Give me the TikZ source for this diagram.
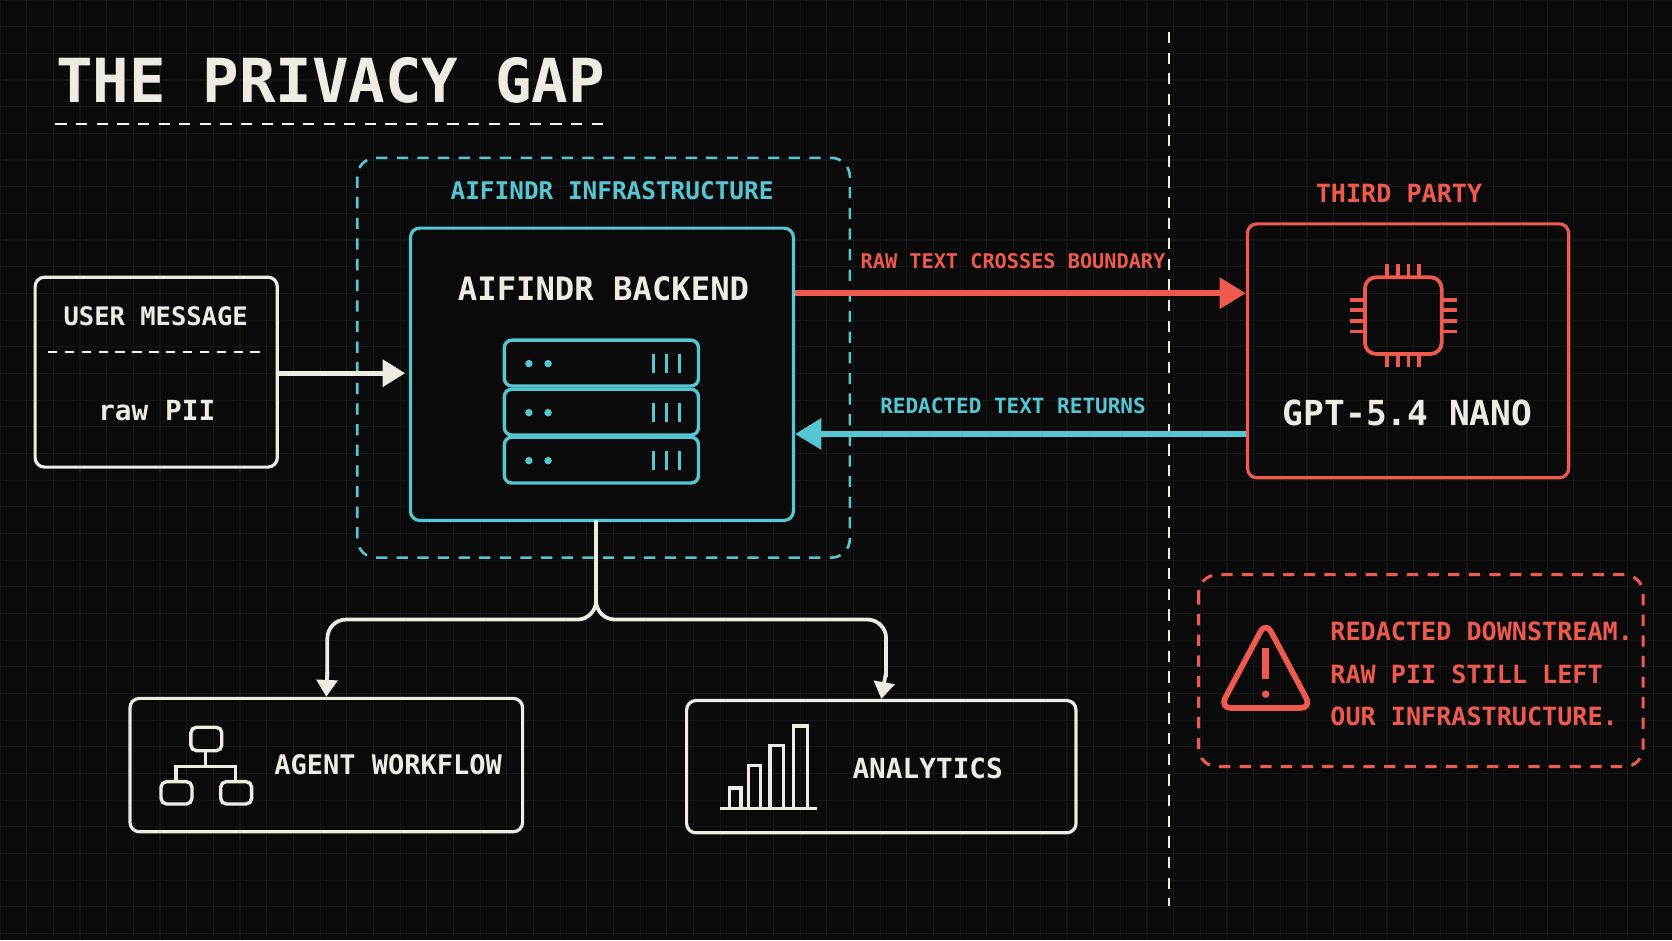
\documentclass[tikz,border=0pt]{standalone}
\usepackage{fontspec}
\setmainfont{DejaVu Sans Mono}
\usetikzlibrary{arrows.meta}
\definecolor{bg}{HTML}{0A0A0A}
\definecolor{gridc}{HTML}{161616}
\definecolor{cy}{HTML}{56C6D2}
\definecolor{rd}{HTML}{EE5A4E}
\definecolor{wh}{HTML}{EEEBE2}
\newcommand{\fs}[1]{\bfseries\fontsize{#1}{#1}\selectfont}
\begin{document}
\begin{tikzpicture}[x=0.01cm,y=-0.01cm,
  lbl/.style={font=\fs{6.5},inner sep=0pt},
  box/.style={line width=0.85pt,rounded corners=2.5pt},
  arr/.style={line width=1.6pt,-{Triangle[length=7pt,width=8pt]}},
  warr/.style={line width=1pt,wh,-{Triangle[length=4.5pt,width=5.5pt]}}]
\fill[bg] (0,0) rectangle (1568,882);
\useasboundingbox (0,0) rectangle (1568,882);
\draw[gridc,line width=0.3pt] (0,0) grid[step=0.25cm] (1568,882);
% title
\node[anchor=west,text=wh,font=\fs{16.2},inner sep=0pt] (title) at (52,75) {THE PRIVACY GAP};
\draw[wh!60,dash pattern=on 3pt off 2.5pt,line width=0.5pt] (52,116) -- (573,116);
% divider
\draw[wh!80,dash pattern=on 3pt off 2.5pt,line width=0.6pt] (1096,30) -- (1096,850);
% infra
\draw[cy,dash pattern=on 3pt off 2.5pt,line width=0.7pt,rounded corners=5pt] (335,148) rectangle (797,523);
\node[lbl,text=cy] (infl) at (574,179) {AIFINDR INFRASTRUCTURE};
\node[box,draw=cy,minimum width=3.59cm,minimum height=2.74cm,fill=bg] (be) at (564.5,351) {};
\node[lbl,text=wh,font=\fs{8.6}] at (566,271) {AIFINDR BACKEND};
\foreach \y in {319,365,410}{
  \draw[cy,line width=0.9pt,rounded corners=2pt] (473,\y) rectangle (655,\y+43);
  \fill[cy] (496,\y+22) circle (3.5);
  \fill[cy] (514,\y+22) circle (3.5);
  \foreach \x in {613,625,637} \draw[cy,line width=0.9pt] (\x,\y+13) -- (\x,\y+31);
}
% user message
\node[box,draw=wh,minimum width=2.27cm,minimum height=1.78cm] (um) at (146.5,349) {};
\node[lbl,text=wh,font=\fs{6.8}] at (146,297) {USER MESSAGE};
\draw[wh!70,dash pattern=on 2.5pt off 2pt,line width=0.5pt] (45,330) -- (248,330);
\node[lbl,text=wh,font=\fs{7.4}] at (147,385) {raw PII};
\coordinate (bin) at (380,350);
\draw[warr,line width=1.4pt,-{Triangle[length=6pt,width=7pt]}] (um.east |- bin) -- (bin);
% third party
\node[lbl,text=rd,font=\fs{6.7}] at (1312,181) {THIRD PARTY};
\node[box,draw=rd,minimum width=3.01cm,minimum height=2.38cm] (gpt) at (1320.5,329) {};
\node[lbl,text=wh,font=\fs{9.2}] at (1320,387) {GPT-5.4 NANO};
\begin{scope}[rd,line width=1pt]
\draw[rounded corners=3pt] (1280,260) rectangle (1352,332);
\foreach \i in {-15,-5,5,15}{
  \draw (1316+\i,260) -- (1316+\i,248);
  \draw (1316+\i,332) -- (1316+\i,344);
  \draw (1280,296+\i) -- (1266,296+\i);
  \draw (1352,296+\i) -- (1366,296+\i);
}
\end{scope}
% arrows
\draw[arr,rd] (be.east |- 0,275) -- (gpt.west |- 0,275);
\node[lbl,text=rd,font=\fs{5.4}] at (950,245) {RAW TEXT CROSSES BOUNDARY};
\draw[arr,cy] (gpt.west |- 0,407) -- (be.east |- 0,407);
\node[lbl,text=cy,font=\fs{5.6}] at (950,381) {REDACTED TEXT RETURNS};
% warning
\draw[rd,dash pattern=on 3pt off 2.5pt,line width=0.8pt,rounded corners=5pt] (1124,539) rectangle (1541,719);
\draw[rd,line width=1.5pt,line join=round,rounded corners=3pt] (1187,583) -- (1230,664) -- (1144,664) -- cycle;
\draw[rd,line width=2pt] (1187,608) -- (1187,637);
\fill[rd] (1187,651) circle (3.5);
\node[lbl,text=rd,anchor=west,align=left,font=\bfseries\fontsize{6.7}{11.4}\selectfont] (warn) at (1247,632) {REDACTED DOWNSTREAM.\\RAW PII STILL LEFT\\OUR INFRASTRUCTURE.};
% tree
\node[box,draw=wh,minimum width=3.68cm,minimum height=1.25cm] (aw) at (306,717.5) {};
\node[box,draw=wh,minimum width=3.65cm,minimum height=1.24cm] (an) at (826.5,719) {};
\draw[wh,line width=1pt,rounded corners=5pt] (559,488) -- (559,581) -- (307,581) -- (307,635);
\draw[wh,line width=1pt,rounded corners=5pt] (559,560) -- (559,581) -- (831,581) -- (831,635);
\draw[warr] (307,630) -- (aw.north);
\draw[warr] (831,630) -- (an.north);
\node[lbl,text=wh,font=\fs{7.2}] at (364,717) {AGENT WORKFLOW};
\node[lbl,text=wh,font=\fs{7.4}] at (870,721) {ANALYTICS};
\begin{scope}[wh,line width=0.9pt]
\draw[rounded corners=1.5pt] (179,682) rectangle (208,704);
\draw[rounded corners=1.5pt] (151,733) rectangle (180,754);
\draw[rounded corners=1.5pt] (207,733) rectangle (236,754);
\draw (193,704) -- (193,719) (165,733) -- (165,719) -- (221,719) -- (221,733);
\draw (675,758) -- (766,758);
\draw (684,739) rectangle (695,758);
\draw (702,718) rectangle (713,758);
\draw (722,699) rectangle (735,758);
\draw (744,681) rectangle (757,758);
\end{scope}
\end{tikzpicture}
\end{document}
